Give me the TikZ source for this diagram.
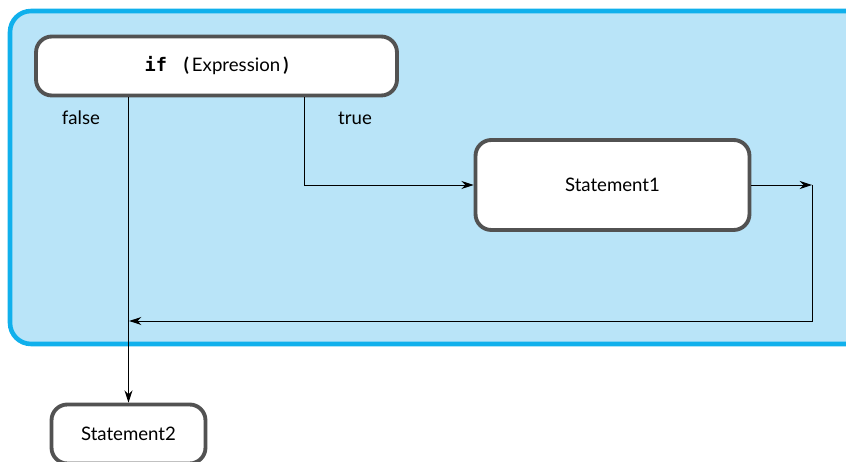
\documentclass[tikz,border=0pt]{standalone}
\usepackage{fontspec}
\setmainfont{Lato}
\setmonofont{DejaVu Sans Mono}
\usetikzlibrary{arrows.meta}
\definecolor{panelfill}{HTML}{B9E4F8}
\definecolor{panelrim}{HTML}{10B0EC}

\begin{document}
\begin{tikzpicture}
[x=0.02cm,y=-0.02cm,
  boxDecorate/.style={shape=rectangle,rounded corners=9pt,draw=black!68,
    line width=2.2pt,fill=white,font=\fontsize{10.6}{12}\selectfont},%
  lineDecorate/.style={-{Stealth[length=7pt,width=4.6pt]},line width=0.5pt},%
  labelDecorate/.style={font=\fontsize{10.6}{12}\selectfont}]
\useasboundingbox (0,0) rectangle (846,462);
%% background panel
\draw[fill=panelfill,draw=panelrim,line width=2.6pt,rounded corners=12pt]
  (10,11) rectangle (900,344);
%% nodes or vertices
\node (ifbox) at (216.5,66) [boxDecorate,minimum width=7.22cm,minimum height=1.18cm]
  {\texttt{\textbf{if}}\hspace{0.9em}\textbf{(}\,Expression\,\textbf{)}};
\node (stmtone) at (612.5,185) [boxDecorate,minimum width=5.48cm,minimum height=1.8cm]
  {Statement1};
\node (stmttwo) at (128.5,434) [boxDecorate,minimum width=3.08cm,minimum height=1.18cm]
  {Statement2};
\node (falselbl) at (81,118) [labelDecorate] {false};
\node (truelbl) at (355,118) [labelDecorate] {true};
\coordinate (truex) at (304,0);
\coordinate (rjoin) at (812,185);
\coordinate (bjoin) at (812,321);
%% edges or lines
\draw[lineDecorate] (ifbox.south -| stmttwo.north) -- (stmttwo.north);
\draw[lineDecorate] (ifbox.south -| truex) |- (stmtone.west);
\draw[lineDecorate] (stmtone.east) -- (rjoin);
\draw[lineDecorate] (rjoin) -- (bjoin) -- ([xshift=0.4pt]bjoin -| stmttwo.north);
\end{tikzpicture}
\end{document}
